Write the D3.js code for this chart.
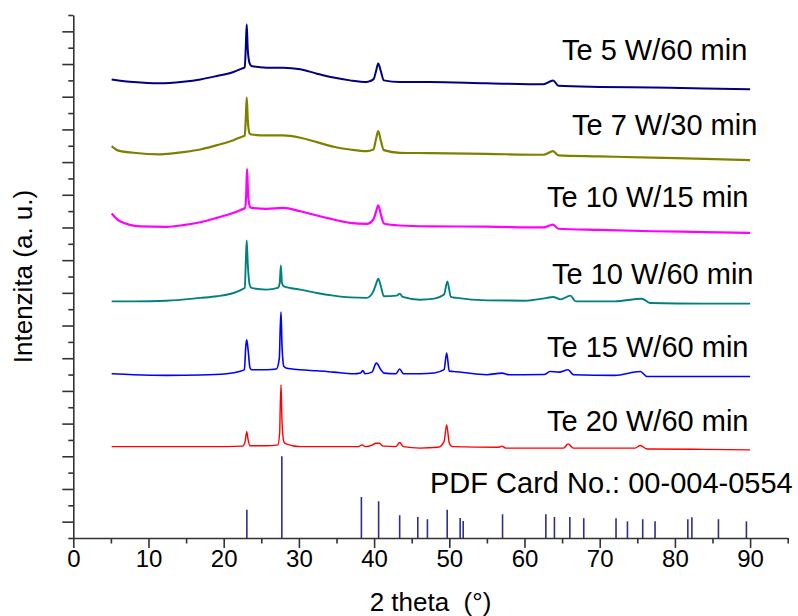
<meta charset="UTF-8">
<script src="https://cdn.jsdelivr.net/npm/d3@7"></script>

<svg id="xrd" width="798" height="616"></svg>

<style>
 body { margin:0; background:#fff; }
 svg text { font-family:"Liberation Sans", Arial, sans-serif; fill:#000; }
 .axis path, .axis line { stroke:#333; stroke-width:1.6px; }
 .axis text { font-size:24px; }
 .pattern { fill:none; stroke-linejoin:round; }
 .stick { stroke:#2e2e8c; stroke-width:1.6px; }
</style>

<script>
 // Samples: labels and patterns, [2 theta, intensity (a.u., offset included)]
 var labels = ["Te 5 W/60 min", "Te 7 W/30 min", "Te 10 W/15 min",
               "Te 10 W/60 min", "Te 15 W/60 min", "Te 20 W/60 min"];
 var colors = ["#000080", "#808000", "#ff00ff", "#008080", "#0000ff", "#ff0000"];

 var te5 = [[5.1,28.06],[8.0,27.90],[11.5,27.82],[14.6,27.92],[16.9,28.06],[19.1,28.27],[21.3,28.51],[22.4,28.72],
   [22.8,28.80],[22.95,30.2],[23.06,31.43],[23.2,29.9],[23.45,29.04],[23.7,28.88],[25.7,28.78],[27.9,28.78],
   [30.2,28.68],[32.4,28.41],[34.6,28.17],[36.8,28.00],[39.0,27.90],[39.9,28.06],[40.25,28.55],[40.55,29.04],
   [40.9,28.55],[41.3,28.0],[43.4,27.90],[47.4,27.90],[55.0,27.82],[62.5,27.76],[63.8,28.00],[64.5,27.67],
   [70.0,27.60],[77.0,27.56],[84.0,27.51],[90.0,27.45]];

 var te7 = [[5.1,23.98],[6.0,23.70],[8.0,23.57],[11.5,23.47],[14.6,23.61],[16.9,23.77],[19.1,24.04],[21.3,24.34],
   [22.4,24.55],[22.8,24.62],[22.95,25.81],[23.06,26.94],[23.2,25.6],[23.45,24.75],[23.7,24.69],[25.7,24.63],
   [27.9,24.63],[30.2,24.49],[32.4,24.22],[34.6,23.94],[36.8,23.77],[39.0,23.67],[39.9,23.77],[40.25,24.4],
   [40.55,24.90],[40.9,24.3],[41.3,23.73],[43.4,23.57],[47.4,23.55],[55.0,23.50],[62.5,23.45],[63.8,23.67],
   [64.5,23.41],[70.0,23.35],[77.0,23.27],[84.0,23.20],[90.0,23.12]];

 var te10a = [[5.1,19.85],[6.2,19.38],[8.9,19.07],[12.4,19.04],[14.6,19.14],[16.9,19.32],[19.1,19.59],[21.3,19.90],
   [22.4,20.10],[22.85,20.2],[23.0,21.12],[23.1,22.59],[23.25,21.0],[23.5,20.25],[23.7,20.20],[25.7,20.14],
   [27.9,20.20],[30.2,19.99],[32.4,19.73],[34.6,19.49],[36.8,19.28],[39.0,19.22],[39.9,19.49],[40.25,19.95],
   [40.55,20.36],[40.9,19.8],[41.3,19.24],[43.4,19.12],[47.4,19.07],[55.0,19.05],[62.5,19.00],[63.8,19.18],
   [64.5,18.92],[70.0,18.85],[77.0,18.77],[84.0,18.72],[90.0,18.67]];

 var te10b = [[5.1,14.48],[8.0,14.48],[12.4,14.52],[16.9,14.69],[19.1,14.79],[21.3,14.99],[22.4,15.20],[22.8,15.3],
   [22.95,17.03],[23.06,18.20],[23.2,16.8],[23.45,15.5],[23.7,15.30],[25.7,15.20],[27.2,15.30],[27.45,15.6],
   [27.6,16.67],[27.75,15.6],[28.0,15.40],[30.2,15.20],[32.4,14.99],[34.6,14.83],[36.8,14.72],[39.0,14.69],
   [39.9,15.09],[40.3,15.6],[40.55,15.87],[40.9,15.4],[41.3,14.79],[43.0,14.83],[43.4,14.95],[43.8,14.75],
   [46.1,14.58],[48.0,14.65],[49.3,14.9],[49.75,15.70],[50.2,14.75],[51.0,14.69],[55.0,14.54],[60.0,14.52],
   [62.95,14.69],[63.8,14.75],[64.8,14.60],[66.1,14.83],[66.8,14.48],[72.0,14.48],[75.6,14.64],[76.7,14.38],
   [84.0,14.34],[90.0,14.34]];

 var te15 = [[5.1,10.05],[8.0,9.99],[12.4,9.95],[16.9,9.97],[20.4,10.05],[22.1,10.19],[22.75,10.3],[22.95,11.8],
   [23.06,12.13],[23.25,11.5],[23.5,10.4],[23.72,10.29],[25.7,10.29],[27.0,10.34],[27.4,11.0],[27.5,12.54],
   [27.62,13.83],[27.75,11.8],[28.0,10.5],[28.3,10.40],[30.2,10.29],[32.4,10.23],[34.6,10.15],[37.3,10.05],
   [38.2,10.10],[38.5,10.25],[38.8,10.05],[39.7,10.15],[40.3,10.70],[40.9,10.3],[41.3,10.09],[42.9,10.05],
   [43.4,10.34],[43.9,10.05],[46.1,10.05],[48.0,10.10],[49.3,10.3],[49.65,11.32],[50.0,10.2],[50.5,10.19],
   [55.0,9.99],[57.0,10.09],[58.0,9.99],[62.6,10.0],[63.4,10.19],[64.6,10.15],[65.8,10.29],[66.5,9.99],
   [72.0,9.95],[75.4,10.19],[76.3,9.88],[84.0,9.88],[90.0,9.88]];

 var te20 = [[5.1,5.59],[12.4,5.59],[20.4,5.59],[22.5,5.62],[22.85,5.9],[23.06,6.51],[23.25,6.0],[23.5,5.64],
   [25.7,5.64],[27.2,5.70],[27.45,6.5],[27.5,7.64],[27.62,9.38],[27.75,7.2],[28.0,5.9],[28.3,5.76],[30.2,5.59],
   [37.9,5.59],[38.4,5.70],[38.8,5.59],[39.8,5.70],[40.2,5.80],[40.7,5.80],[41.2,5.62],[42.9,5.59],[43.4,5.84],
   [43.9,5.59],[46.1,5.50],[48.5,5.55],[49.3,5.9],[49.65,6.92],[50.0,5.8],[50.4,5.59],[56.6,5.55],[57.0,5.62],
   [57.5,5.50],[65.2,5.50],[65.8,5.76],[66.5,5.50],[74.7,5.50],[75.4,5.66],[76.3,5.45],[84.0,5.42],[90.0,5.39]];

 var patterns = [te5, te7, te10a, te10b, te15, te20];

 // PDF card 00-004-0554 (Te) reflections
 var pdfLabel = "PDF Card No.: 00-004-0554";
 var pdfPos = [23.08, 27.73, 38.31, 40.6, 43.4, 45.81, 47.09, 49.72, 51.44, 51.85, 57.08, 62.84,
               63.98, 66.03, 67.88, 72.17, 73.69, 75.72, 77.36, 81.72, 82.26, 85.79, 89.51];
 var pdfInt = [1.73, 5.0, 2.51, 2.25, 1.39, 1.29, 1.15, 1.73, 1.23, 1.04, 1.45, 1.45,
               1.29, 1.29, 1.21, 1.21, 1.02, 1.15, 1.02, 1.15, 1.27, 1.15, 1.02];

 var xMajor = d3.range(0, 91, 10);
 var xMinor = d3.range(5, 96, 10);

 var svg = d3.select("#xrd");
 var x = d3.scaleLinear().domain([0, 95]).range([73.3, 787.7]);
 var y = d3.scaleLinear().domain([0, 32]).range([538, 15]);

 // sticks
 svg.append("g").selectAll("line").data(pdfPos).enter().append("line")
    .attr("class", "stick")
    .attr("x1", function (d) { return x(d); }).attr("x2", function (d) { return x(d); })
    .attr("y1", y(0))
    .attr("y2", function (d, i) { return y(pdfInt[i]); });

 // patterns
 var line = d3.line().curve(d3.curveMonotoneX)
    .x(function (d) { return x(d[0]); }).y(function (d) { return y(d[1]); });
 var widths = [2.0, 2.2, 2.2, 1.9, 1.6, 1.4];
 svg.append("g").selectAll("path").data(patterns).enter().append("path")
    .attr("class", "pattern")
    .attr("stroke", function (d, i) { return colors[i]; })
    .attr("stroke-width", function (d, i) { return widths[i]; })
    .attr("d", line);

 // Axes
 svg.append("g").attr("class", "axis")
    .attr("transform", "translate(0," + y(0) + ")")
    .call(d3.axisBottom(x).tickValues(xMinor).tickSize(5.5).tickSizeOuter(0).tickFormat(""));
 svg.append("g").attr("class", "axis")
    .attr("transform", "translate(0," + y(0) + ")")
    .call(d3.axisBottom(x).tickValues(xMajor).tickSize(10).tickSizeOuter(0).tickPadding(2))
    .select(".domain").remove();

 var yTicks = d3.range(0, 33);
 svg.append("g").attr("class", "axis")
    .attr("transform", "translate(" + x(0) + ",0)")
    .call(d3.axisLeft(y).tickValues(yTicks.filter(function (v) { return v % 2 == 0; }))
            .tickSize(5).tickSizeOuter(0).tickFormat(""));
 svg.append("g").attr("class", "axis")
    .attr("transform", "translate(" + x(0) + ",0)")
    .call(d3.axisLeft(y).tickValues(yTicks.filter(function (v) { return v % 2 == 1; }))
            .tickSize(11).tickSizeOuter(0).tickFormat(""))
    .select(".domain").remove();

 // Labels
 var labelX = [562, 572, 547, 552, 547, 547];
 var labelY = [60, 135, 207, 284, 357, 431];
 svg.append("g").selectAll("text").data(labels).enter().append("text")
    .attr("x", function (d, i) { return labelX[i]; })
    .attr("y", function (d, i) { return labelY[i]; })
    .style("font-size", "29px")
    .text(function (d) { return d; });
 svg.append("text").attr("x", 430).attr("y", 493).style("font-size", "29px").text(pdfLabel);

 svg.append("text").attr("x", x(47.5)).attr("y", 611)
    .attr("text-anchor", "middle").style("font-size", "26px").style("white-space", "pre")
    .text("2 theta  (°)");
 svg.append("text").attr("transform", "translate(32," + ((y(0) + y(32)) / 2) + ") rotate(-90)")
    .attr("text-anchor", "middle").style("font-size", "26px")
    .text("Intenzita (a. u.)");
</script>
